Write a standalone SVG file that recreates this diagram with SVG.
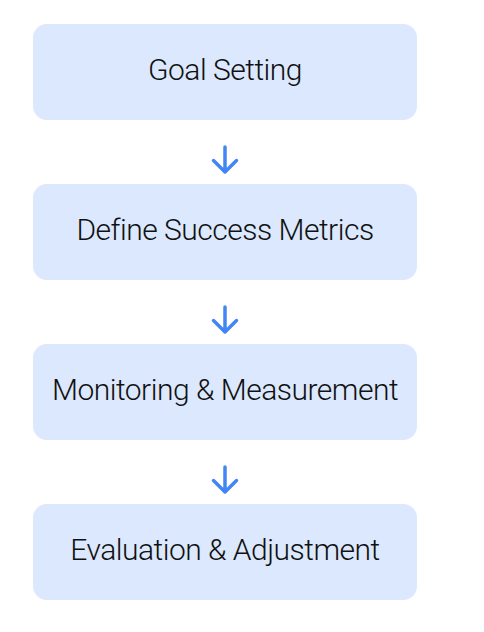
<svg xmlns="http://www.w3.org/2000/svg" width="484" height="632" viewBox="0 0 484 632">
<defs>
<style>
.box{fill:#dbe8fd;}
.lbl{font-family:Roboto,"Liberation Sans",sans-serif;font-weight:300;font-size:30px;letter-spacing:-0.5px;fill:#111;text-anchor:middle;}
.arr{fill:none;stroke:#4285f4;stroke-width:3.5;stroke-linecap:round;stroke-linejoin:round;}
</style>
</defs>
<rect width="484" height="632" fill="#fff"/>
<g id="n1"><rect class="box" x="33" y="24" width="384" height="96" rx="14"/><text class="lbl" x="225" y="80">Goal Setting</text></g>
<g id="n2"><rect class="box" x="33" y="184" width="384" height="96" rx="14"/><text class="lbl" x="225" y="240">Define Success Metrics</text></g>
<g id="n3"><rect class="box" x="33" y="344" width="384" height="96" rx="14"/><text class="lbl" x="225" y="400">Monitoring &amp; Measurement</text></g>
<g id="n4"><rect class="box" x="33" y="504" width="384" height="96" rx="14"/><text class="lbl" x="225" y="560">Evaluation &amp; Adjustment</text></g>
<g id="connectors">
<path class="arr" d="M225 147V172M213.5 160.5L225 172L236.5 160.5"/>
<path class="arr" d="M225 307V332M213.5 320.5L225 332L236.5 320.5"/>
<path class="arr" d="M225 467V492M213.5 480.5L225 492L236.5 480.5"/>
</g>
</svg>
